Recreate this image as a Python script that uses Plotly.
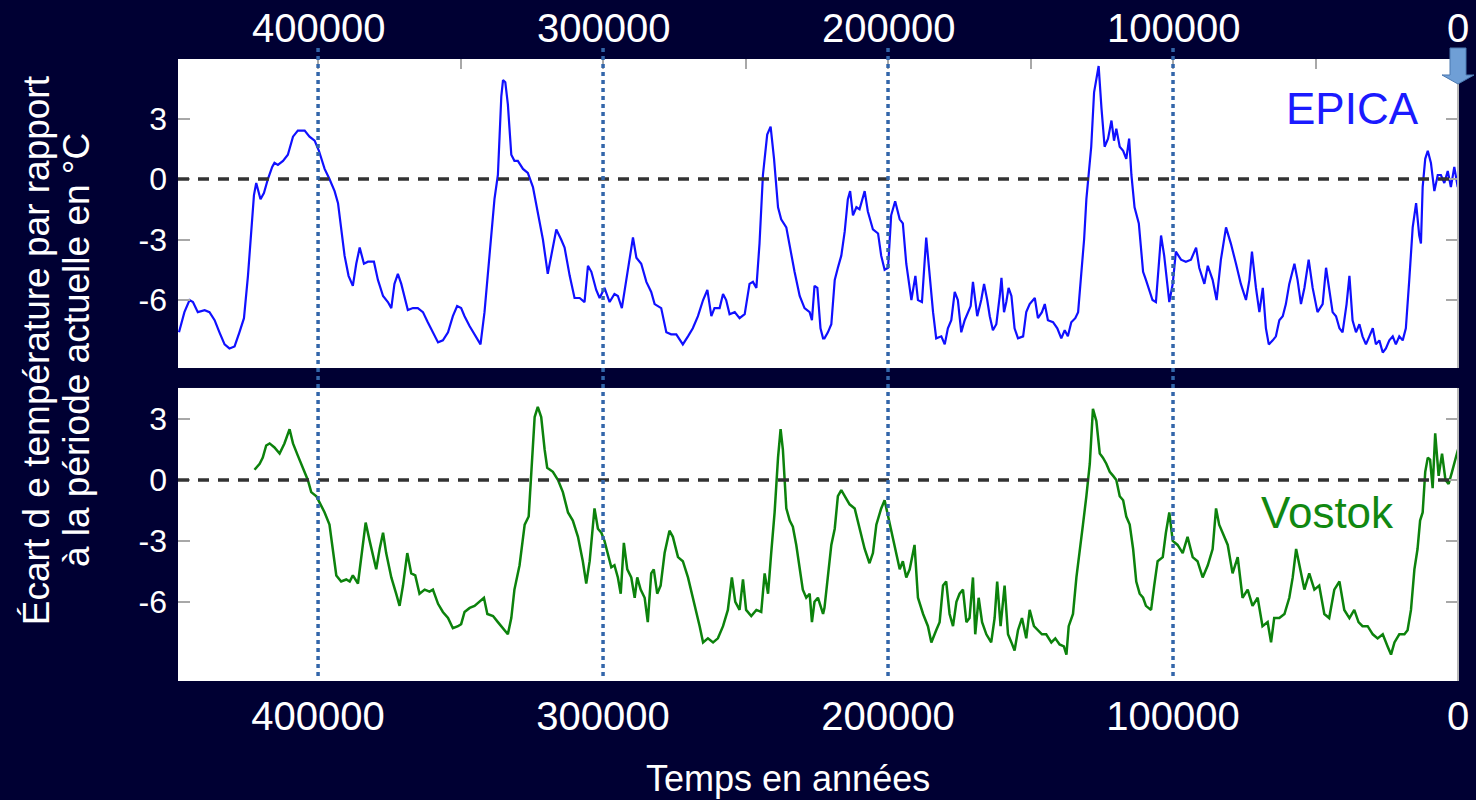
import numpy as np
import plotly.graph_objects as go

# EPICA Dome C: age (ka before present) and temperature anomaly (deg C)
epica_age_ka = [
    448.8, 446.9, 445.1, 443.9, 442.2, 439.8, 438.1, 436.3, 434.6, 432.8, 431.1, 429.3,
    427.6, 426.0, 424.6, 423.5, 422.5, 421.7, 420.2, 419.0, 417.6, 416.1, 415.3, 414.1,
    412.3, 410.6, 408.8, 407.1, 404.7, 403.0, 401.2, 399.7, 397.7, 396.0, 394.2, 393.0,
    391.9, 390.7, 389.3, 387.8, 386.6, 385.4, 383.9, 382.5, 380.4, 379.0, 377.2, 375.5,
    374.3, 373.2, 372.0, 370.8, 368.5, 366.7, 365.0, 363.2, 361.5, 359.7, 357.9, 356.2,
    354.4, 352.7, 351.2, 349.8, 348.6, 346.8, 345.1, 343.0, 341.6, 340.4, 339.2, 338.1,
    336.9, 335.7, 335.1,
    334.3, 333.4, 332.2, 331.1, 329.9, 328.1, 326.4, 324.6, 322.9, 321.1, 319.4, 318.2,
    316.4, 314.7, 313.5, 311.7, 310.0, 308.2, 306.5, 305.3, 304.1, 302.4, 301.2, 299.5,
    297.7, 296.0, 294.8, 293.4, 291.9, 290.7, 289.5, 288.3, 286.6, 284.8, 283.1, 281.9,
    279.6, 277.8, 276.1, 274.3, 272.0, 270.2, 268.5, 266.7, 264.9, 263.4, 262.0, 260.9,
    259.1, 257.9, 256.8, 255.6, 253.8, 252.1, 250.3, 248.6, 247.4, 246.2, 245.1, 243.9,
    242.4, 241.2, 240.0, 238.6, 237.5, 235.7, 234.2, 232.8, 231.0, 229.3, 227.5, 226.7,
    225.8, 224.8, 223.7, 222.8,
    222.3, 221.1, 219.9, 218.7, 217.6, 216.4, 215.2, 214.1, 213.3, 212.3, 211.1, 210.0,
    208.2, 207.1, 205.3, 203.5, 202.4, 201.2, 200.0, 198.9, 197.5, 195.9, 194.8, 193.6,
    191.8, 190.4, 189.5, 188.1, 186.6, 185.4, 184.2, 183.1, 181.3, 180.1, 179.0, 177.8,
    176.6, 175.5, 174.3, 173.1, 172.0, 171.0, 170.2, 169.6, 168.7, 167.3, 166.3, 165.2,
    164.3, 163.2, 162.0, 160.8, 160.2, 159.3, 158.5, 157.7, 156.7, 155.6, 154.4, 152.6,
    151.5, 150.3, 148.5, 147.4, 146.0, 145.0, 143.9, 142.1, 140.6, 139.2, 138.0, 136.9,
    135.7, 134.3, 133.3, 132.2, 131.2, 130.4, 129.5, 128.7, 127.7, 126.1, 125.1, 124.0,
    122.8, 121.6, 120.7, 119.9, 118.7, 117.5, 116.4, 115.4, 114.6, 113.5, 112.0, 110.5,
    109.5, 107.2, 106.0, 104.2, 103.1, 101.3, 100.1, 99.0, 97.2, 95.5, 93.7, 91.9,
    90.8, 89.0, 87.8, 86.1, 84.7, 83.2, 81.4, 79.7, 77.9, 76.2, 74.4, 73.2,
    72.3, 70.9, 69.7, 68.5, 67.4, 66.4, 65.0, 63.9, 62.7, 61.5, 60.4, 59.2,
    57.4, 56.3, 55.1, 53.9, 52.4, 51.0, 49.3, 47.5, 46.3, 45.2, 44.0, 42.8,
    41.6, 40.5, 39.1, 38.1, 37.0, 35.8, 34.6, 33.5, 32.3, 31.1, 29.9, 28.8,
    27.6, 26.4, 25.3, 24.1, 22.9, 21.8, 20.6, 19.4, 18.3, 17.1, 15.9, 14.7,
    13.6, 13.0, 12.4, 11.5, 10.6, 9.5, 8.3, 7.1, 6.0, 4.8, 3.6, 2.5,
    1.3, 0.1,
]
epica_temp = [
    -7.6, -6.6, -6.0, -6.1, -6.6, -6.5, -6.6, -7.0, -7.6, -8.2, -8.4, -8.3,
    -7.6, -6.9, -4.8, -2.8, -0.8, -0.2, -1.0, -0.7, 0.0, 0.6, 0.8, 0.7,
    0.9, 1.2, 2.1, 2.4, 2.4, 2.1, 1.9, 1.4, 0.5, 0.0, -0.6, -1.2,
    -2.4, -3.8, -4.8, -5.3, -4.2, -3.4, -4.2, -4.1, -4.1, -5.0, -5.8, -6.1,
    -6.4, -5.2, -4.7, -5.2, -6.5, -6.4, -6.4, -6.6, -7.1, -7.6, -8.1, -8.0,
    -7.6, -6.8, -6.3, -6.4, -6.8, -7.3, -7.7, -8.2, -6.6, -4.6, -2.6, -1.0,
    0.2, 4.1, 4.9,
    4.8, 3.7, 1.2, 0.9, 0.9, 0.5, 0.3, -0.4, -1.6, -3.0, -4.7, -3.8,
    -2.5, -3.0, -3.4, -4.8, -5.9, -5.9, -6.1, -4.3, -4.6, -5.5, -5.9, -5.4,
    -6.1, -5.7, -5.8, -6.4, -5.0, -3.8, -2.9, -3.9, -4.2, -5.1, -5.6, -6.2,
    -6.4, -7.6, -7.7, -7.7, -8.2, -7.8, -7.4, -6.8, -6.0, -5.5, -6.8, -6.4,
    -6.4, -5.7, -6.0, -6.7, -6.6, -6.9, -6.7, -5.2, -5.1, -5.4, -3.2, 0.2,
    2.2, 2.6, 1.0, -1.4, -2.0, -2.4, -3.6, -4.6, -5.8, -6.4, -6.6, -7.0,
    -5.3, -5.4, -7.4, -7.9,
    -7.9, -7.6, -7.2, -5.0, -4.4, -3.8, -2.6, -1.0, -0.6, -1.8, -1.4, -1.5,
    -0.6, -1.6, -2.5, -2.7, -3.8, -4.5, -4.4, -1.8, -1.1, -2.0, -2.2, -4.2,
    -6.0, -4.8, -6.0, -6.1, -2.9, -4.8, -6.6, -7.9, -7.8, -8.2, -7.4, -7.0,
    -5.6, -6.0, -7.6, -7.0, -6.6, -6.3, -5.1, -5.8, -6.8, -6.0, -5.2, -6.0,
    -6.8, -7.5, -7.2, -5.8, -4.9, -6.6, -6.1, -5.4, -5.8, -7.4, -7.9, -7.8,
    -6.6, -6.2, -5.9, -6.9, -6.6, -6.2, -7.0, -7.1, -7.4, -7.9, -7.5, -7.8,
    -7.1, -6.9, -6.6, -4.7, -3.0, -1.0, 0.2, 1.6, 4.3, 5.6, 3.5, 1.6,
    2.0, 2.9, 1.9, 2.5, 1.6, 1.4, 1.0, 2.0, 0.2, -1.4, -2.2, -4.6,
    -5.0, -6.0, -6.1, -2.8, -3.8, -6.1, -5.2, -3.6, -4.0, -4.1, -4.0, -3.4,
    -4.4, -5.2, -4.3, -5.0, -6.0, -4.0, -2.4, -3.2, -4.2, -5.2, -6.0, -5.0,
    -3.6, -5.4, -6.6, -5.4, -7.4, -8.2, -8.0, -7.8, -7.0, -6.8, -6.2, -5.2,
    -4.2, -5.0, -6.2, -5.4, -4.0, -5.4, -6.6, -6.2, -4.4, -5.4, -6.6, -6.8,
    -7.4, -7.6, -6.2, -4.8, -7.0, -7.6, -7.2, -7.8, -8.2, -7.8, -7.4, -8.2,
    -8.0, -8.6, -8.4, -8.0, -7.8, -8.2, -7.8, -8.0, -7.4, -5.0, -2.4, -1.2,
    -2.8, -3.2, -0.4, 1.0, 1.4, 0.8, -0.6, 0.2, 0.2, -0.2, 0.4, -0.4,
    0.6, -0.4,
]

# Vostok: age (ka before present) and temperature anomaly (deg C)
vostok_age_ka = [
    422.3, 420.5, 419.4, 418.2, 417.0, 415.3, 413.5, 411.8, 410.0, 408.8, 407.1, 405.3,
    403.6, 402.4, 400.6, 399.5, 397.7, 396.0, 394.8, 393.6, 391.9, 390.1, 388.9, 387.8,
    386.0, 384.6, 383.3, 381.9, 379.6, 378.4, 377.2, 376.1, 374.3, 372.6, 371.4, 370.2,
    368.7, 367.3, 365.9, 364.4, 362.6, 360.9, 359.7, 357.9, 356.2, 354.4, 352.7, 350.9,
    349.8, 348.6, 346.8, 345.1, 343.3, 341.8, 340.6, 338.6, 336.9, 335.1,
    333.4, 332.2, 331.1, 329.3, 327.5, 326.1, 325.2, 324.0, 322.9, 321.7, 320.5, 319.6,
    317.6, 315.8, 314.1, 312.3, 310.6, 308.8, 307.1, 305.9, 304.7, 303.6, 303.0, 301.8,
    300.6, 299.5, 298.3, 297.1, 296.0, 294.8, 293.8, 292.7, 291.5, 290.1, 288.9, 288.0,
    286.8, 285.4, 284.3, 283.1, 282.2, 281.0, 279.8, 278.4, 276.7, 275.5, 273.7, 272.0,
    270.2, 268.8, 267.3, 266.1, 264.9, 263.2, 261.4, 259.7, 257.9, 256.2, 254.8, 253.6,
    252.1, 250.9, 249.8, 248.0, 246.2, 244.5, 243.3, 242.1, 241.0, 239.8, 238.6, 237.7,
    236.9, 235.7, 234.5, 233.4, 232.2, 231.0, 229.9, 228.7, 227.5, 226.7, 225.8, 224.6,
    222.8,
    222.3, 221.1, 219.9, 218.7, 217.6, 216.4, 215.2, 213.5, 211.7, 210.0, 208.2, 206.5,
    205.3, 204.1, 202.4, 201.2, 200.0, 198.9, 197.1, 195.9, 194.8, 193.6, 192.4, 190.7,
    189.5, 187.7, 186.0, 184.8, 183.1, 181.9, 180.7, 179.6, 178.4, 177.2, 176.0, 174.9,
    173.7, 172.5, 171.4, 170.2, 169.4, 168.2, 167.0, 165.5, 163.8, 162.6, 161.7, 160.5,
    159.1, 157.9, 156.7, 155.6, 154.4, 153.0, 151.5, 150.3, 148.8, 147.4, 146.0, 144.5,
    142.7, 141.3, 139.8, 138.3, 137.4, 136.6, 135.1, 133.9, 132.8, 131.6, 130.4, 129.2,
    128.1, 126.9, 125.7, 124.6, 123.4, 122.2, 121.0, 119.9, 118.7, 117.5, 116.4, 115.2,
    114.0, 112.9, 111.7, 110.5,
    109.5, 107.7, 106.6, 105.4, 103.6, 102.5, 101.3, 100.1, 98.4, 96.6, 94.9, 93.1,
    91.4, 89.6, 87.8, 86.1, 84.9, 83.8, 82.6, 80.8, 79.1, 77.3, 75.6, 73.8,
    72.1, 70.3, 68.6, 66.8, 65.6, 64.5, 62.7, 60.9, 59.2, 58.0, 56.8, 55.1,
    53.9, 52.2, 50.4, 48.7, 46.9, 45.2, 43.4, 41.6, 39.9, 38.1, 36.4, 34.9,
    33.5, 31.7, 29.9, 28.2, 26.4, 24.7, 23.5, 22.3, 20.6, 18.8, 17.7, 16.5,
    15.3, 14.2, 13.3, 12.4, 11.5, 10.6, 9.8, 8.9, 8.0, 6.8, 5.6, 4.4,
    3.3, 2.1, 0.9, 0.0,
]
vostok_temp = [
    0.5, 0.8, 1.1, 1.7, 1.8, 1.6, 1.3, 1.8, 2.5, 1.8, 1.2, 0.6,
    0.0, -0.6, -0.8, -1.1, -1.6, -2.2, -3.4, -4.7, -5.0, -4.9, -5.0, -4.7,
    -5.1, -3.6, -2.1, -3.0, -4.4, -3.4, -2.6, -3.6, -4.8, -5.6, -6.2, -5.2,
    -3.6, -4.6, -4.7, -5.6, -5.4, -5.5, -5.4, -6.1, -6.5, -6.8, -7.3, -7.2,
    -7.1, -6.5, -6.3, -6.2, -6.0, -5.8, -6.6, -6.7, -7.0, -7.3,
    -7.6, -6.8, -5.4, -4.2, -2.2, -1.8, 0.2, 3.1, 3.6, 3.1, 1.5, 0.6,
    0.4, 0.0, -0.6, -1.6, -2.0, -2.8, -4.0, -5.1, -4.0, -2.2, -1.4, -2.4,
    -2.6, -3.0, -3.6, -4.3, -4.2, -4.8, -5.6, -3.1, -4.4, -4.8, -5.8, -4.8,
    -5.4, -5.8, -7.0, -4.6, -4.4, -5.6, -5.2, -3.6, -2.5, -2.8, -3.8, -4.0,
    -4.8, -5.6, -6.4, -7.2, -8.0, -7.8, -8.0, -7.8, -7.2, -6.4, -4.8, -6.0,
    -6.4, -4.9, -6.4, -6.7, -6.4, -6.5, -4.6, -5.6, -3.6, -1.6, 1.1, 2.5,
    1.5, -1.4, -2.0, -2.3, -3.2, -4.4, -5.4, -5.8, -5.6, -7.0, -6.0, -5.8,
    -6.6,
    -6.3, -4.8, -3.2, -2.4, -0.8, -0.5, -0.8, -1.2, -1.4, -2.4, -3.4, -4.1,
    -3.6, -2.2, -1.4, -1.0, -1.8, -2.4, -3.6, -4.4, -4.0, -4.8, -4.4, -3.2,
    -5.8, -6.6, -7.2, -8.0, -7.4, -7.0, -5.2, -5.0, -6.6, -7.2, -6.0, -5.6,
    -5.4, -7.0, -6.8, -4.8, -7.6, -5.8, -7.0, -7.6, -8.0, -6.8, -5.0, -7.2,
    -5.2, -7.6, -8.0, -8.4, -7.4, -6.8, -7.8, -6.4, -7.2, -7.4, -7.6, -7.6,
    -8.0, -7.8, -8.1, -8.2, -8.6, -7.2, -6.6, -4.8, -3.4, -2.2, -0.8, 0.8,
    3.5, 2.9, 1.3, 1.1, 0.8, 0.4, 0.2, 0.0, -0.8, -1.0, -1.8, -2.2,
    -3.4, -5.0, -5.6, -5.8,
    -6.2, -6.4, -5.2, -4.0, -3.8, -2.6, -1.6, -3.0, -3.2, -3.6, -2.8, -3.8,
    -4.0, -4.8, -4.2, -3.4, -1.4, -2.2, -2.6, -3.2, -4.6, -3.8, -5.8, -5.4,
    -6.2, -5.8, -7.2, -7.0, -8.0, -6.8, -6.8, -6.6, -5.8, -4.8, -3.4, -4.6,
    -5.4, -4.6, -5.4, -5.2, -6.6, -6.8, -5.4, -5.0, -6.4, -6.8, -6.4, -7.0,
    -7.2, -7.2, -7.6, -7.8, -7.6, -8.2, -8.6, -8.0, -7.6, -7.6, -7.4, -6.4,
    -4.4, -3.4, -2.0, -1.6, 0.4, 1.1, 1.0, -0.4, 2.3, 0.2, 1.3, 0.0,
    -0.2, 0.4, 1.1, 1.5,
]

# Axis ticks (years before present)
tick_years = [400000, 300000, 200000, 100000, 0]
tick_labels = ["400000", "300000", "200000", "100000", "0"]
minor_top_years = [400000, 350000, 300000, 250000, 200000, 150000, 100000, 50000, 0]
temp_ticks = [3, 0, -3, -6]
temp_tick_labels = ["3", "0", "-3", "-6"]
guide_years = [400000, 300000, 200000, 100000]

BG = "#000033"
FONT = "Liberation Sans, Arial, sans-serif"
X_RANGE = [449150, 0]

epica_x = np.array(epica_age_ka) * 1000
vostok_x = np.array(vostok_age_ka) * 1000

fig = go.Figure()
fig.add_trace(go.Scatter(x=epica_x, y=epica_temp, mode="lines",
                         line=dict(color="#1010ff", width=2.2),
                         xaxis="x", yaxis="y", showlegend=False, hoverinfo="skip"))
fig.add_trace(go.Scatter(x=vostok_x, y=vostok_temp, mode="lines",
                         line=dict(color="#0c820c", width=2.5),
                         xaxis="x2", yaxis="y2", showlegend=False, hoverinfo="skip"))

yaxis_common = dict(
    tickvals=temp_ticks, ticktext=temp_tick_labels,
    ticks="inside", ticklen=12, tickwidth=2, tickcolor="#a8a8a8",
    mirror="ticks", showline=False, showgrid=False, zeroline=False,
    tickfont=dict(size=32, color="white", family=FONT),
    ticklabelstandoff=10, automargin=False,
)

fig.update_layout(
    width=1476, height=800,
    paper_bgcolor=BG, plot_bgcolor="white",
    margin=dict(l=178, r=18, t=59, b=119, autoexpand=False),
    font=dict(family=FONT, color="white"),
    # top axis: small marks every 50000, labels set as annotations above the panel
    xaxis=dict(domain=[0, 1], anchor="y", side="top", range=X_RANGE,
               tickvals=minor_top_years, showticklabels=False,
               ticks="inside", ticklen=10, tickwidth=2, tickcolor="#a8a8a8",
               showgrid=False, zeroline=False, showline=False, automargin=False),
    yaxis=dict(domain=[0.5032, 1.0], anchor="x", range=[-9.37, 5.95], **yaxis_common),
    xaxis2=dict(domain=[0, 1], anchor="y2", side="bottom", range=X_RANGE,
                tickvals=tick_years, ticktext=tick_labels, ticks="",
                showgrid=False, zeroline=False, showline=False,
                tickfont=dict(size=40, color="white", family=FONT),
                ticklabelstandoff=8, automargin=False),
    yaxis2=dict(domain=[0, 0.4711], anchor="x2", range=[-9.90, 4.53], **yaxis_common),
)

shapes = []
# zero reference lines
for xr, yr in (("x", "y"), ("x2", "y2")):
    shapes.append(dict(type="line", xref=xr + " domain", yref=yr, x0=0, x1=1, y0=0, y1=0,
                       line=dict(color="#333333", width=3.5, dash="11px,9px"), layer="above"))
# right border of each panel
for yr in ("y", "y2"):
    shapes.append(dict(type="line", xref="paper", yref=yr + " domain", x0=1, x1=1, y0=0, y1=1,
                       line=dict(color="#b8b8b8", width=2), layer="above"))
# dotted guides through both panels
for yv in guide_years:
    shapes.append(dict(type="line", xref="x", yref="paper", x0=yv, x1=yv, y0=0.008, y1=1.0177,
                       line=dict(color="#3366aa", width=3.5, dash="4px,4px"), layer="above"))
# arrow marking the present
shapes.append(dict(type="path", xref="paper", yref="paper",
                   path="M 0.99375 1.0177 L 1.00625 1.0177 L 1.00625 0.9743 L 1.0125 0.9743 "
                        "L 1.0 0.9598 L 0.9875 0.9743 L 0.99375 0.9743 Z",
                   fillcolor="#6f9fd6", line=dict(color="#4a78b0", width=1), layer="above"))
fig.update_layout(shapes=shapes)

annotations = [
    dict(text=lab, xref="x", yref="paper", x=yv, y=1.0498, showarrow=False,
         font=dict(size=40, color="white", family=FONT), xanchor="center", yanchor="middle")
    for yv, lab in zip(tick_years, tick_labels)
]
annotations += [
    dict(text="EPICA", xref="paper", yref="paper", x=0.9172, y=0.9212,
         showarrow=False, font=dict(size=44, color="#1a1aff", family=FONT),
         xanchor="center", yanchor="middle"),
    dict(text="Vostok", xref="paper", yref="paper", x=0.8984, y=0.2717,
         showarrow=False, font=dict(size=44, color="#118811", family=FONT),
         xanchor="center", yanchor="middle"),
    dict(text="Temps en années", xref="paper", yref="paper", x=0.4766, y=-0.156,
         showarrow=False, font=dict(size=36, color="white", family=FONT),
         xanchor="center", yanchor="middle"),
    dict(text="Écart d e température par rapport", xref="paper", yref="paper",
         x=-0.1109, y=0.532, textangle=-90, showarrow=False,
         font=dict(size=37, color="white", family=FONT), xanchor="center", yanchor="middle"),
    dict(text="à la période actuelle en °C", xref="paper", yref="paper",
         x=-0.0797, y=0.532, textangle=-90, showarrow=False,
         font=dict(size=37, color="white", family=FONT), xanchor="center", yanchor="middle"),
]
fig.update_layout(annotations=annotations)

fig.write_html("out.html")
